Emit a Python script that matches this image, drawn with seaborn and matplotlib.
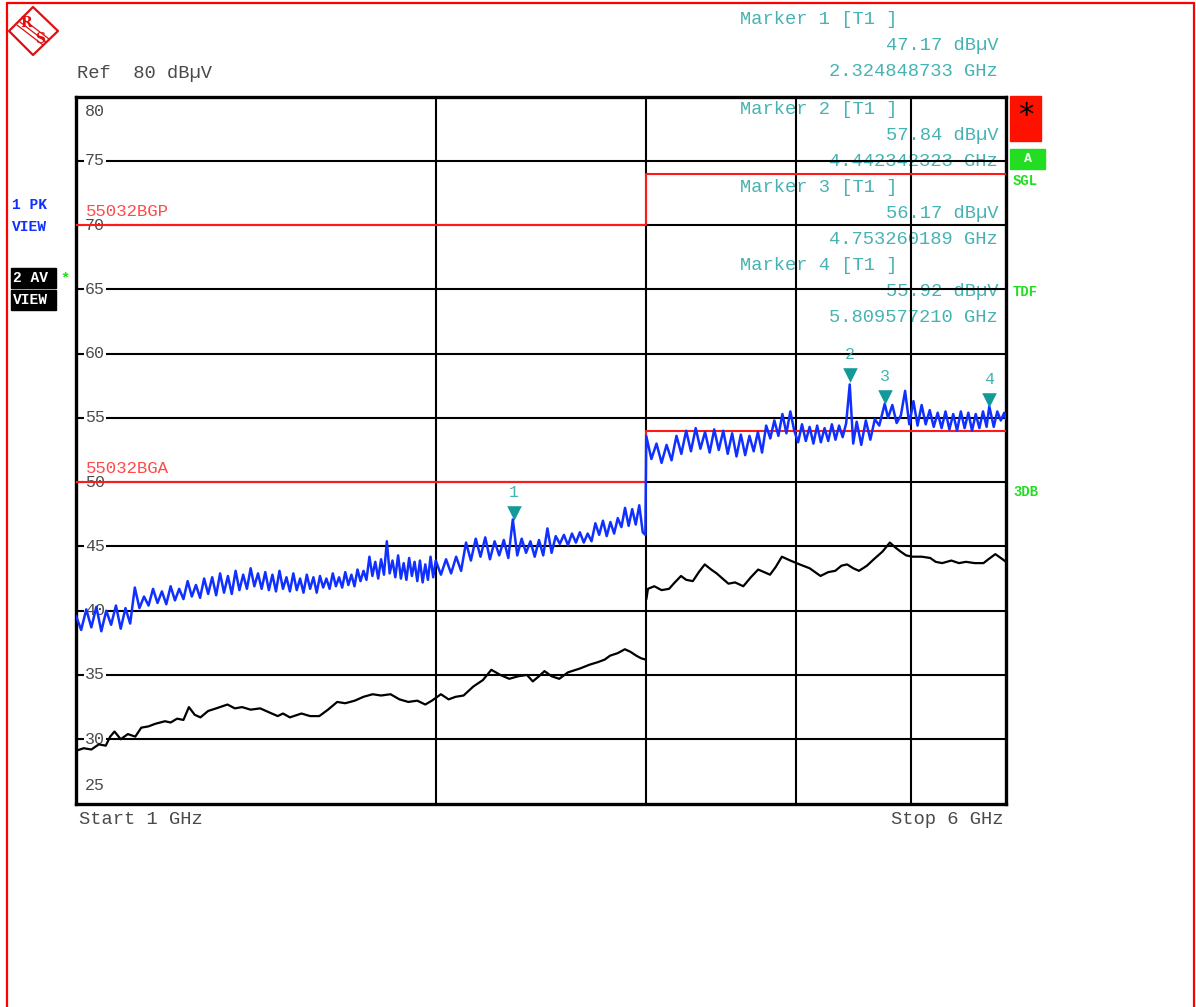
import pandas as pd
import matplotlib.pyplot as plt
import matplotlib.transforms as mtransforms
from matplotlib.patches import Polygon, Rectangle
from matplotlib.lines import Line2D
import seaborn as sns

# sweep settings
f_start, f_stop = 1.0, 6.0
ref_level, bottom_level = 80, 25
grid_freqs = [2, 3, 4, 5]
level_ticks = [80, 75, 70, 65, 60, 55, 50, 45, 40, 35, 30, 25]

# trace 1: peak detector (blue), GHz / dBuV
pk_freq = [1.00, 1.01, 1.02, 1.03, 1.04, 1.05, 1.06, 1.07, 1.08, 1.09,
           1.10, 1.11, 1.12, 1.13, 1.14, 1.15, 1.16, 1.17, 1.18, 1.19,
           1.20, 1.21, 1.22, 1.23, 1.24, 1.25, 1.26, 1.27, 1.28, 1.29,
           1.30, 1.31, 1.32, 1.33, 1.34, 1.35, 1.36, 1.37, 1.38, 1.39,
           1.40, 1.41, 1.42, 1.43, 1.44, 1.45, 1.46, 1.47, 1.48, 1.49,
           1.50, 1.51, 1.52, 1.53, 1.54, 1.55, 1.56, 1.57, 1.58, 1.59,
           1.60, 1.61, 1.62, 1.63, 1.64, 1.65, 1.66, 1.67, 1.68, 1.69,
           1.70, 1.71, 1.72, 1.73, 1.74, 1.75, 1.76, 1.77, 1.78, 1.79,
           1.80, 1.81, 1.82, 1.83, 1.84, 1.85, 1.86, 1.87, 1.88, 1.89,
           1.90, 1.91, 1.92, 1.93, 1.94, 1.95, 1.96, 1.97, 1.98, 1.99,
           2.00, 2.02, 2.04, 2.06, 2.08, 2.10, 2.12, 2.14, 2.16, 2.18,
           2.20, 2.22, 2.24, 2.26, 2.28, 2.30, 2.32, 2.34, 2.36, 2.38,
           2.40, 2.42, 2.44, 2.46, 2.48, 2.50, 2.52, 2.54, 2.56, 2.58,
           2.60, 2.62, 2.64, 2.66, 2.68, 2.70, 2.72, 2.74, 2.76, 2.78,
           2.80, 2.82, 2.84, 2.86, 2.88, 2.90, 2.92, 2.94, 2.96, 2.98,
           2.995, 3.00, 3.03, 3.06, 3.09, 3.12, 3.15, 3.18, 3.21, 3.24,
           3.27, 3.30, 3.33, 3.36, 3.39, 3.42, 3.45, 3.48, 3.51, 3.54,
           3.57, 3.60, 3.63, 3.66, 3.69, 3.72, 3.75, 3.78, 3.81, 3.84,
           3.87, 3.90, 3.93, 3.96, 3.99, 4.02, 4.05, 4.08, 4.11, 4.14,
           4.17, 4.20, 4.23, 4.26, 4.29, 4.32, 4.35, 4.38, 4.41, 4.44,
           4.47, 4.50, 4.54, 4.58, 4.62, 4.66, 4.70, 4.75, 4.78, 4.82,
           4.86, 4.90, 4.94, 4.98, 5.02, 5.06, 5.10, 5.14, 5.18, 5.22,
           5.26, 5.30, 5.34, 5.38, 5.42, 5.46, 5.50, 5.54, 5.58, 5.62,
           5.66, 5.70, 5.74, 5.78, 5.81, 5.86, 5.90, 5.94, 5.98, 6.00]
pk_level = [39.6, 38.5, 40.1, 38.7, 40.3, 38.4, 40.0, 38.9, 40.4, 38.6,
            40.2, 39.0, 41.8, 40.2, 41.1, 40.4, 41.7, 40.6, 41.5, 40.5,
            41.9, 40.8, 41.7, 40.9, 42.3, 41.1, 42.0, 41.0, 42.5, 41.3,
            42.6, 41.2, 42.9, 41.4, 42.7, 41.3, 43.1, 41.6, 42.8, 41.7,
            43.3, 41.9, 42.9, 41.7, 43.0, 41.6, 42.8, 41.5, 43.1, 41.7,
            42.6, 41.5, 42.9, 41.6, 42.5, 41.4, 42.8, 41.7, 42.6, 41.4,
            42.7, 41.8, 42.5, 41.7, 42.9, 41.9, 42.6, 41.8, 43.0, 42.0,
            42.8, 41.9, 43.2, 42.3, 43.1, 42.4, 44.2, 42.7, 43.8, 42.5,
            44.0, 42.8, 45.4, 42.9, 43.9, 42.6, 44.3, 42.5, 43.7, 42.4,
            44.1, 42.7, 43.8, 42.3, 43.9, 42.2, 43.6, 42.4, 44.2, 42.6,
            43.9, 42.8, 44.0, 42.9, 44.2, 43.1, 45.3, 43.9, 45.6, 44.2,
            45.7, 44.0, 45.4, 44.3, 45.5, 44.1, 47.1, 44.3, 45.6, 44.5,
            45.4, 44.2, 45.5, 44.3, 46.4, 44.5, 45.8, 45.2, 45.9, 45.1,
            46.0, 45.3, 46.1, 45.3, 46.0, 45.4, 46.8, 45.9, 47.0, 45.8,
            46.9, 46.0, 47.2, 46.5, 48.0, 46.6, 47.9, 46.7, 48.2, 46.1,
            45.9, 53.6, 51.8, 53.0, 51.5, 52.9, 51.7, 53.6, 52.2, 54.0,
            52.4, 54.2, 52.6, 53.9, 52.3, 54.1, 52.5, 54.0, 52.2, 53.8,
            52.0, 53.7, 52.1, 53.6, 52.4, 53.9, 52.3, 54.4, 53.4, 54.8,
            53.6, 55.3, 53.8, 55.5, 54.0, 53.1, 54.5, 53.2, 54.3, 53.0,
            54.4, 53.1, 54.2, 53.2, 54.5, 53.3, 54.4, 53.5, 54.6, 57.6,
            53.0, 54.7, 52.9, 54.8, 53.3, 54.9, 54.4, 56.1, 55.0, 56.0,
            54.6, 55.2, 57.1, 54.5, 56.3, 54.4, 56.0, 54.5, 55.6, 54.3,
            55.4, 54.2, 55.5, 54.1, 55.3, 54.0, 55.5, 54.2, 55.4, 54.0,
            55.3, 54.2, 55.5, 54.3, 55.9, 54.3, 55.5, 54.8, 55.4, 54.9]

# trace 2: average detector (black), drawn as two sweep bands
av_lo_freq = [1.000, 1.015, 1.030, 1.045, 1.059, 1.068, 1.077, 1.090, 1.105, 1.121,
              1.134, 1.150, 1.165, 1.187, 1.200, 1.215, 1.230, 1.243, 1.257, 1.271,
              1.290, 1.310, 1.339, 1.358, 1.377, 1.400, 1.426, 1.450, 1.475, 1.490,
              1.510, 1.544, 1.570, 1.598, 1.625, 1.654, 1.680, 1.711, 1.740, 1.771,
              1.800, 1.833, 1.865, 1.897, 1.930, 1.960, 1.985, 2.020, 2.050, 2.078,
              2.110, 2.150, 2.190, 2.226, 2.265, 2.304, 2.345, 2.384, 2.411, 2.440,
              2.466, 2.500, 2.537, 2.580, 2.640, 2.690, 2.734, 2.770, 2.798, 2.840,
              2.879, 2.910, 2.943, 2.970, 2.995]
av_lo_level = [29.1, 29.3, 29.2, 29.6, 29.5, 30.2, 30.6, 30.0, 30.4, 30.2,
               30.9, 31.0, 31.2, 31.4, 31.3, 31.6, 31.5, 32.5, 31.9, 31.7,
               32.2, 32.4, 32.7, 32.4, 32.5, 32.3, 32.4, 32.1, 31.8, 32.0,
               31.7, 32.0, 31.8, 31.8, 32.3, 32.9, 32.8, 33.0, 33.3, 33.5,
               33.4, 33.5, 33.1, 32.9, 33.0, 32.7, 33.0, 33.5, 33.1, 33.3,
               33.4, 34.1, 34.6, 35.4, 35.0, 34.7, 34.9, 35.0, 34.5, 34.9,
               35.3, 34.9, 34.7, 35.2, 35.5, 35.8, 36.0, 36.2, 36.5, 36.7,
               37.0, 36.8, 36.5, 36.3, 36.2]
av_hi_freq = [3.001, 3.010, 3.047, 3.090, 3.135, 3.170, 3.208, 3.240, 3.282, 3.320,
              3.358, 3.400, 3.436, 3.475, 3.515, 3.560, 3.617, 3.670, 3.722, 3.765,
              3.808, 3.850, 3.896, 3.960, 4.032, 4.110, 4.197, 4.260, 4.318, 4.370,
              4.418, 4.470, 4.520, 4.590, 4.651, 4.730, 4.797, 4.850, 4.897, 4.950,
              5.010, 5.100, 5.185, 5.240, 5.305, 5.400, 5.480, 5.554, 5.650, 5.745,
              5.800, 5.878, 5.940, 6.000]
av_hi_level = [40.9, 41.7, 41.9, 41.6, 41.7, 42.2, 42.7, 42.4, 42.3, 43.0,
               43.6, 43.2, 42.9, 42.5, 42.1, 42.2, 41.9, 42.6, 43.2, 43.0,
               42.8, 43.4, 44.2, 43.9, 43.6, 43.3, 42.7, 43.0, 43.1, 43.5,
               43.6, 43.3, 43.1, 43.5, 44.0, 44.6, 45.3, 44.9, 44.6, 44.3,
               44.2, 44.2, 44.1, 43.8, 43.7, 43.9, 43.7, 43.8, 43.7, 43.7,
               44.0, 44.4, 44.1, 43.8]

# limit lines
limit_freq = [1.0, 3.0, 6.0]
bgp_level = [70, 74, 74]
bga_level = [50, 54, 54]

# markers
marker_no = [1, 2, 3, 4]
marker_freq = ["2.324848733", "4.442342323", "4.753260189", "5.809577210"]
marker_level = [47.17, 57.84, 56.17, 55.92]

W, H = 1196, 1007
TEAL_TXT = "#45b3b3"
TEAL = "#12999a"
GRAY = "#4a4a4a"
MONO = ["Liberation Mono", "DejaVu Sans Mono"]

sns.set_theme(style="white")
plt.rcParams["font.family"] = MONO

fig = plt.figure(figsize=(W / 100, H / 100), dpi=100)
ax = fig.add_axes([76 / W, 1 - 803.5 / H, 930 / W, 707 / H])


def fx(x):
    return x / W


def fy(y):
    return 1 - y / H


# traces
pk_df = pd.DataFrame({"f": pk_freq, "lvl": pk_level})
sns.lineplot(data=pk_df, x="f", y="lvl", ax=ax, color="#1030ff", lw=1.8,
             estimator=None, sort=False, zorder=4)
for fr, lv in [(av_lo_freq, av_lo_level), (av_hi_freq, av_hi_level)]:
    sns.lineplot(x=fr, y=lv, ax=ax, color="black", lw=1.6,
                 estimator=None, sort=False, zorder=3)
for lv in [bgp_level, bga_level]:
    sns.lineplot(x=limit_freq, y=lv, ax=ax, color="#ff1a1a", lw=1.5,
                 drawstyle="steps-post", estimator=None, sort=False, zorder=3.5)

ax.set_xscale("log")
ax.set_xlim(f_start, f_stop)
ax.set_ylim(bottom_level, ref_level)
ax.set_xticks(grid_freqs)
ax.set_xticks([], minor=True)
ax.set_yticks(level_ticks[1:-1])
ax.tick_params(length=0, labelbottom=False, labelleft=False)
ax.set_xlabel("")
ax.set_ylabel("")
ax.set_axisbelow(True)
ax.grid(True, color="black", lw=1.5)
for sp in ax.spines.values():
    sp.set_color("black")
    sp.set_linewidth(2.4)

# level labels inside the grid
blend = mtransforms.blended_transform_factory(ax.transAxes, ax.transData)
for lv in level_ticks:
    va, dy = "center", 0
    if lv == ref_level:
        va, dy = "top", -7
    elif lv == bottom_level:
        va, dy = "bottom", 11
    tr = mtransforms.offset_copy(blend, fig=fig, y=dy, units="dots")
    ax.text(9 / 930, lv, str(lv), transform=tr, va=va, ha="left", fontsize=12,
            color=GRAY, zorder=1,
            bbox=dict(facecolor="white", edgecolor="none", pad=1.0))

# limit line names
for name, lv in [("55032BGP", bgp_level[0]), ("55032BGA", bga_level[0])]:
    ax.text(10 / 930, lv, name, transform=mtransforms.offset_copy(
        blend, fig=fig, y=6, units="dots"), va="bottom", ha="left",
        fontsize=12.5, color="#ff4a4a", zorder=1)

# marker symbols and numbers
mk_f = [float(v) for v in marker_freq]
tri = mtransforms.offset_copy(ax.transData, fig=fig, y=6, units="dots")
ax.scatter(mk_f, marker_level, marker="v", s=110, color=TEAL, lw=0,
           transform=tri, zorder=5, clip_on=False)
num = mtransforms.offset_copy(ax.transData, fig=fig, y=19, units="dots")
for n, f, lv in zip(marker_no, mk_f, marker_level):
    ax.text(f, lv, str(n), transform=num, ha="center", va="bottom",
            fontsize=12, color=TEAL_TXT, zorder=5)

# marker readout block (sits under the grid lines)
for i, (n, fstr, lv) in enumerate(zip(marker_no, marker_freq, marker_level)):
    y0 = 20 if i == 0 else 110 + (i - 1) * 78
    lines = [(f"Marker {n} [T1 ]", 740, "left"),
             (f"{lv:.2f} dBµV", 998, "right"),
             (f"{fstr} GHz", 998, "right")]
    for k, (txt, x, ha) in enumerate(lines):
        ax.text(fx(x), fy(y0 + k * 26), txt, transform=fig.transFigure,
                ha=ha, va="center", fontsize=13.5, color=TEAL_TXT,
                zorder=0.3, clip_on=False)

# header / footer text
fig.text(fx(77), fy(73), "Ref  80 dBµV", ha="left", va="center",
         fontsize=13.5, color=GRAY)
fig.text(fx(79), fy(820), "Start 1 GHz", ha="left", va="center",
         fontsize=13.5, color=GRAY)
fig.text(fx(1003), fy(820), "Stop 6 GHz", ha="right", va="center",
         fontsize=13.5, color=GRAY)

# left trace info
fig.text(fx(12), fy(205), "1 PK", ha="left", va="center", fontsize=10.5,
         fontweight="bold", color="#1030ff")
fig.text(fx(12), fy(227), "VIEW", ha="left", va="center", fontsize=10.5,
         fontweight="bold", color="#1030ff")
fig.patches.append(Rectangle((fx(11), fy(288)), 45 / W, 20 / H, color="black",
                             transform=fig.transFigure))
fig.patches.append(Rectangle((fx(11), fy(310)), 45 / W, 20 / H, color="black",
                             transform=fig.transFigure))
fig.text(fx(13), fy(278), "2 AV", ha="left", va="center", fontsize=10.5,
         fontweight="bold", color="white")
fig.text(fx(13), fy(300), "VIEW", ha="left", va="center", fontsize=10.5,
         fontweight="bold", color="white")
fig.text(fx(65), fy(278), "*", ha="center", va="center", fontsize=11,
         fontweight="bold", color="#22dd22")

# right status column
fig.patches.append(Rectangle((fx(1010), fy(141)), 31 / W, 45 / H,
                             color="#ff1100", transform=fig.transFigure))
fig.text(fx(1026), fy(116), "*", ha="center", va="center", fontsize=22,
         color="black", family=["DejaVu Sans"])
fig.patches.append(Rectangle((fx(1010), fy(169)), 35 / W, 20 / H,
                             color="#22dd22", transform=fig.transFigure))
fig.text(fx(1028), fy(159), "A", ha="center", va="center", fontsize=9.5,
         fontweight="bold", color="white")
for txt, y in [("SGL", 181), ("TDF", 292), ("3DB", 492)]:
    fig.text(fx(1013), fy(y), txt, ha="left", va="center", fontsize=10,
             fontweight="bold", color="#22dd22")

# R&S logo
logo = Polygon([(fx(33), fy(7)), (fx(58), fy(31)), (fx(33), fy(55)), (fx(9), fy(31))],
               closed=True, fill=False, edgecolor="#e01010", lw=1.6,
               transform=fig.transFigure, joinstyle="round")
fig.patches.append(logo)
for d in (-3, 0, 3):
    fig.lines.append(Line2D([fx(20 + d), fx(46 + d)], [fy(22 - d), fy(42 - d)],
                            color="#e01010", lw=0.9, transform=fig.transFigure))
fig.text(fx(26), fy(23), "R", ha="center", va="center", fontsize=10,
         fontweight="bold", color="#e01010", family=["DejaVu Serif"])
fig.text(fx(40), fy(39), "S", ha="center", va="center", fontsize=10,
         fontweight="bold", color="#e01010", family=["DejaVu Serif"])

# red screen frame
for xs, ys in [((7, 7), (3, 1007)), ((7, 1194), (3, 3)), ((1194, 1194), (3, 1007))]:
    fig.lines.append(Line2D([fx(v) for v in xs], [fy(v) for v in ys],
                            color="#ff0000", lw=1.6, transform=fig.transFigure))

fig.savefig("out.png", dpi=100)
